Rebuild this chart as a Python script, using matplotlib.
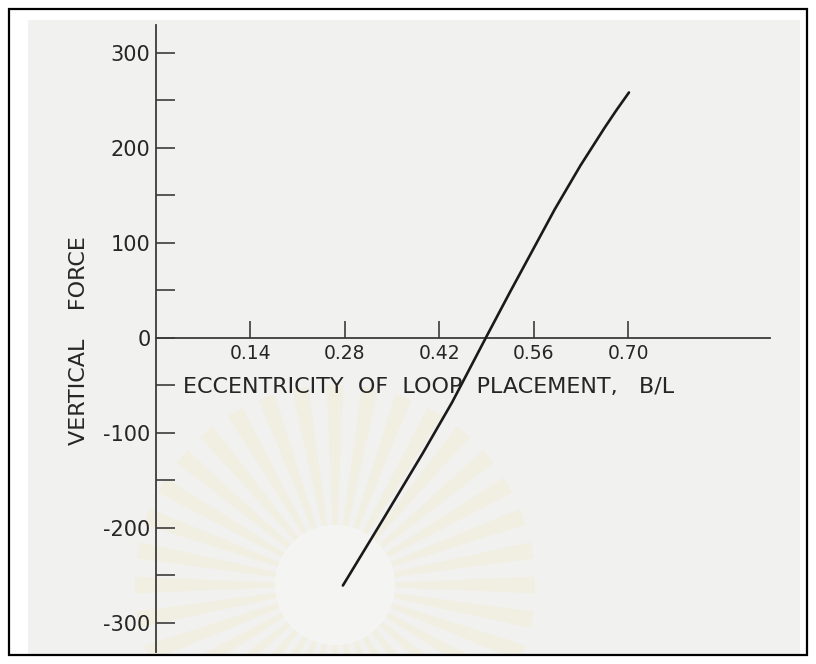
import matplotlib
matplotlib.use("Agg")
import matplotlib.pyplot as plt
from matplotlib.patches import Rectangle, Wedge, Circle

# Measured curve: eccentricity of loop placement (B/L) vs vertical force
ecc = [0.277, 0.336, 0.396, 0.439, 0.489, 0.524, 0.556, 0.591, 0.629, 0.665, 0.683, 0.701]
force = [-261, -192, -121, -68, 0, 47, 89, 135, 181, 221, 240, 258]

x_ticks = [0.14, 0.28, 0.42, 0.56, 0.70]
x_tick_labels = ["0.14", "0.28", "0.42", "0.56", "0.70"]
y_ticks = [-300, -200, -100, 0, 100, 200, 300]
y_tick_labels = ["-300", "-200", "-100", "0", "100", "200", "300"]
y_minor = [-250, -150, -50, 50, 150, 250]

x_label = "ECCENTRICITY  OF  LOOP  PLACEMENT,   B/L"
y_label = "VERTICAL    FORCE"

W, H = 816, 664
fig = plt.figure(figsize=(W / 100, H / 100), dpi=100)
fig.patch.set_facecolor("white")

# paper layer in pixel coordinates
bg = fig.add_axes([0, 0, 1, 1], zorder=-5)
bg.set_xlim(0, W)
bg.set_ylim(H, 0)
bg.axis("off")
paper = Rectangle((28, 20), 772, 635, facecolor="#f1f1f0", edgecolor="none")
bg.add_patch(paper)
# faint emblem on the paper
cx, cy = 335, 585
for k in range(36):
    a = k * 10
    w = Wedge((cx, cy), 200, a - 2.4, a + 2.4, width=140,
              facecolor="#f3ecd2", edgecolor="none", alpha=0.45)
    bg.add_patch(w)
    w.set_clip_path(paper)
disc = Circle((cx, cy), 60, facecolor="#f6f6f4", edgecolor="none", alpha=0.8)
bg.add_patch(disc)
disc.set_clip_path(paper)
bg.add_patch(Rectangle((9, 9), 798, 646, facecolor="none", edgecolor="black",
                       linewidth=1.6))

left, right, top, bottom = 156, 770, 25, 652
ax = fig.add_axes([left / W, (H - bottom) / H, (right - left) / W, (bottom - top) / H])
ax.set_facecolor("none")
ax.set_xlim(0, 0.91)
ax.set_ylim(-331, 329)

ink = "#262626"
for side in ("top", "right"):
    ax.spines[side].set_visible(False)
ax.spines["left"].set_position(("data", 0))
ax.spines["bottom"].set_position(("data", 0))
for side in ("left", "bottom"):
    ax.spines[side].set_color("#3c3c3c")
    ax.spines[side].set_linewidth(1.3)

ax.set_xticks(x_ticks)
ax.set_xticklabels(x_tick_labels)
ax.set_yticks(y_ticks)
ax.set_yticklabels(y_tick_labels)
ax.set_yticks(y_minor, minor=True)

ax.tick_params(axis="y", which="both", direction="in", length=14, width=1.2,
               color="#3c3c3c", labelsize=15, labelcolor=ink, pad=4)
ax.tick_params(axis="x", which="both", direction="in", length=12, width=1.2,
               color="#3c3c3c", labelsize=13.5, labelcolor=ink, pad=5)

ax.plot(ecc, force, color="#1a1a1a", linewidth=1.9, solid_capstyle="round",
        solid_joinstyle="round", zorder=3)

ax.text(0.04, -52, x_label, ha="left", va="center", fontsize=16, color=ink)
fig.text(79 / W, 1 - 341 / H, y_label, rotation=90, ha="center", va="center",
         fontsize=16, color=ink)

fig.savefig("out.png", dpi=100)
